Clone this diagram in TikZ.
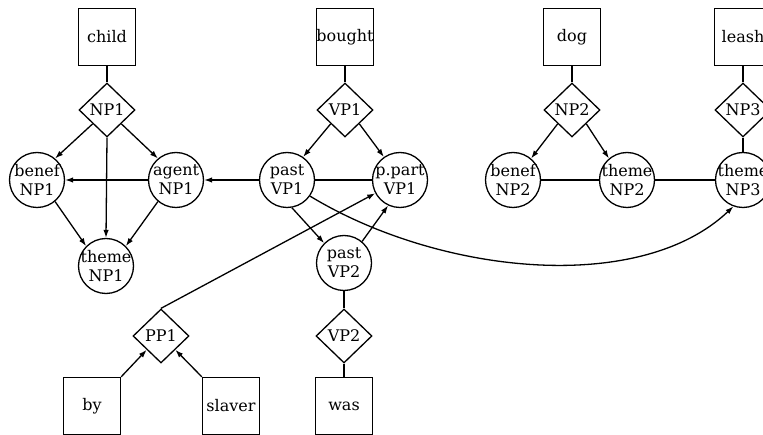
\documentclass[tikz,border=0pt]{standalone}
\usepackage{fontspec}
\setmainfont{DejaVu Serif}
\usetikzlibrary{shapes.geometric,arrows.meta}
\begin{document}
\begin{tikzpicture}[x=1pt,y=-1pt,line width=1.3pt,
  every node/.style={font=\fontsize{16}{19}\selectfont},
  wordbox/.style={draw, rectangle, minimum width=57pt, minimum height=57pt, inner sep=0pt},
  phrase/.style={draw, diamond, aspect=1, minimum width=56pt, minimum height=54pt, inner sep=0pt},
  role/.style={draw, circle, minimum size=55pt, inner sep=-6pt, align=center},
  link/.style={line width=1.3pt},
  arr/.style={link, -{Latex[length=8pt,width=5.5pt]}},
]
\useasboundingbox (0,0) rectangle (763,435);

\node[wordbox] (child) at (107,37) {child};
\node[phrase] (NPa) at (107,110) {NP1};
\node[role] (benefa) at (37,180) {benef\\NP1};
\node[role] (agenta) at (176,180) {agent\\NP1};
\node[role] (themea) at (106,266) {theme\\NP1};

\node[wordbox] (bought) at (345,37) {bought};
\node[phrase] (VPa) at (345,110) {VP1};
\node[role] (pasta) at (287,180) {past\\VP1};
\node[role] (ppart) at (400,180) {p.part\\VP1};
\node[role] (pastb) at (344,263) {past\\VP2};
\node[phrase] (VPb) at (344,336) {VP2};
\node[wordbox] (was) at (344,406) {was};

\node[phrase] (PP) at (161,336) {PP1};
\node[wordbox] (by) at (92,406) {by};
\node[wordbox] (slaver) at (231,406) {slaver};

\node[wordbox] (dog) at (572,37) {dog};
\node[phrase] (NPb) at (572,110) {NP2};
\node[role] (benefb) at (513,180) {benef\\NP2};
\node[role] (themeb) at (627,180) {theme\\NP2};

\node[wordbox] (leash) at (743,37) {leash};
\node[phrase] (NPc) at (743,110) {NP3};
\node[role] (themec) at (743,180) {theme\\NP3};

\draw[link] (child) -- (NPa);
\draw[arr] (NPa.south west) -- (benefa.50);
\draw[arr] (NPa.south east) -- (agenta.130);
\draw[arr] (NPa.south) -- (themea.north);
\draw[arr] (agenta.west) -- (benefa.east);
\draw[arr] (benefa.-50) -- (themea.135);
\draw[arr] (agenta.-130) -- (themea.45);
\draw[arr] (pasta.west) -- (agenta.east);
\draw[link] (pasta.east) -- (ppart.west);
\draw[link] (bought) -- (VPa);
\draw[arr] (VPa.south west) -- (pasta.55);
\draw[arr] (VPa.south east) -- (ppart.125);
\draw[arr] (pasta.-80) -- (pastb.135);
\draw[arr] (pastb.50) -- (ppart.-115);
\draw[link] (pastb) -- (VPb);
\draw[link] (VPb) -- (was);
\draw[arr] (PP.north) -- (ppart);
\draw[arr] (by.north east) -- (PP.south west);
\draw[arr] (slaver.north west) -- (PP.south east);
\draw[arr] (pasta.-35) .. controls (440,275) and (640,295) .. (themec.-110);
\draw[link] (dog) -- (NPb);
\draw[arr] (NPb.south west) -- (benefb.50);
\draw[arr] (NPb.south east) -- (themeb.130);
\draw[link] (benefb) -- (themeb);
\draw[link] (themeb) -- (themec);
\draw[link] (leash) -- (NPc);
\draw[link] (NPc) -- (themec);
\end{tikzpicture}
\end{document}
